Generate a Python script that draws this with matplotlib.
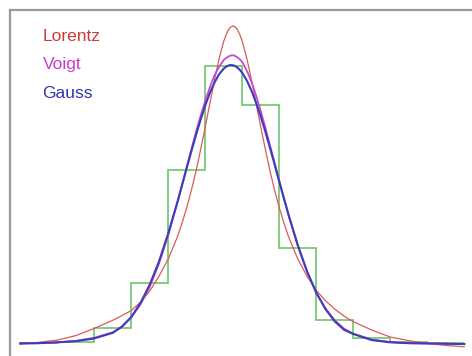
import matplotlib
matplotlib.use("Agg")
from matplotlib import pyplot as plt

# sample positions (bin width = 1) and normalised heights
x = [-5.75, -5.25, -4.75, -4.25, -3.75, -3.25, -3.0, -2.75, -2.5, -2.25,
     -2.0, -1.75, -1.5, -1.375, -1.25, -1.125, -1.0, -0.875, -0.75, -0.625,
     -0.5, -0.375, -0.25, -0.1875, -0.125, -0.0625, 0.0, 0.0625, 0.125, 0.1875,
     0.25, 0.375, 0.5, 0.625, 0.75, 0.875, 1.0, 1.125, 1.25, 1.375,
     1.5, 1.75, 2.0, 2.25, 2.5, 2.75, 3.0, 3.25, 3.75, 4.25,
     4.75, 5.25, 5.75, 6.25]

lorentz = [0.0, 0.006, 0.014, 0.030, 0.056, 0.085, 0.102, 0.120, 0.150, 0.190,
           0.243, 0.305, 0.385, 0.434, 0.489, 0.551, 0.620, 0.697, 0.778, 0.863,
           0.946, 1.023, 1.085, 1.108, 1.126, 1.136, 1.140, 1.136, 1.126, 1.108,
           1.085, 1.023, 0.946, 0.863, 0.778, 0.697, 0.620, 0.551, 0.489, 0.434,
           0.385, 0.305, 0.243, 0.192, 0.155, 0.125, 0.100, 0.080, 0.050, 0.025,
           0.012, 0.002, -0.005, -0.010]

voigt = [0.002, 0.003, 0.006, 0.011, 0.022, 0.042, 0.063, 0.095, 0.142, 0.205,
         0.288, 0.390, 0.508, 0.572, 0.635, 0.698, 0.760, 0.818, 0.872, 0.920,
         0.963, 0.994, 1.018, 1.025, 1.030, 1.034, 1.035, 1.032, 1.027, 1.020,
         1.010, 0.979, 0.940, 0.890, 0.835, 0.775, 0.712, 0.649, 0.585, 0.524,
         0.462, 0.352, 0.259, 0.184, 0.127, 0.085, 0.055, 0.037, 0.016, 0.007,
         0.003, 0.002, 0.001, 0.0]

gauss = [0.002, 0.003, 0.006, 0.010, 0.020, 0.040, 0.062, 0.097, 0.147, 0.213,
         0.296, 0.397, 0.510, 0.570, 0.631, 0.691, 0.749, 0.804, 0.855, 0.900,
         0.937, 0.967, 0.987, 0.994, 0.998, 1.000, 0.999, 0.996, 0.990, 0.982,
         0.972, 0.944, 0.908, 0.864, 0.815, 0.761, 0.703, 0.643, 0.582, 0.522,
         0.464, 0.355, 0.261, 0.184, 0.125, 0.081, 0.051, 0.036, 0.014, 0.006,
         0.003, 0.002, 0.001, 0.0]

# histogram
bin_edges = [-5.75, -4.75, -3.75, -2.75, -1.75, -0.75, 0.25, 1.25, 2.25, 3.25, 4.25, 5.25, 6.25]
counts = [0.004, 0.008, 0.057, 0.219, 0.624, 0.996, 0.857, 0.344, 0.086, 0.022, 0.007, 0.004]

labels = ["Lorentz", "Voigt", "Gauss"]
line_colors = ["#dc5a5a", "#c54ad0", "#3d3db8"]
text_colors = ["#d23a3a", "#c83ccf", "#3434b0"]

fig = plt.figure(figsize=(4.72, 3.56), dpi=100)
W, H = 472.0, 356.0
# axes runs off the right and bottom edges of the picture
ax = fig.add_axes([10 / W, -20 / H, 470 / W, 366 / H])

ax.stairs(counts, bin_edges, color="#6cc66c", linewidth=1.2, baseline=None)
ax.plot(x, lorentz, color=line_colors[0], linewidth=0.9)
ax.plot(x, voigt, color=line_colors[1], linewidth=1.3)
ax.plot(x, gauss, color=line_colors[2], linewidth=1.5)

ax.set_xlim((10 - 233) / 37.0, (480 - 233) / 37.0)
ax.set_ylim(-32 / 279.0, 334 / 279.0)
ax.set_xticks([])
ax.set_yticks([])
for side in ["left", "top"]:
    ax.spines[side].set_color("#9a9a9a")
    ax.spines[side].set_linewidth(1.6)
ax.spines["right"].set_visible(False)
ax.spines["bottom"].set_visible(False)

# coloured text legend
baselines = [40.7, 68.5, 98.5]
for label, c, b in zip(labels, text_colors, baselines):
    fig.text(42.5 / W, 1 - b / H, label, color=c, fontsize=12.5,
             family="Liberation Sans", va="baseline", ha="left")

fig.savefig("out.png", dpi=100)
